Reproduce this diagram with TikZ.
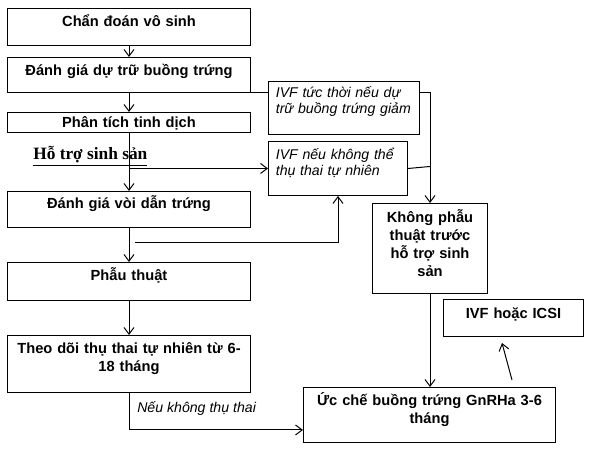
\documentclass[tikz,border=0pt]{standalone}
\usepackage{fontspec}
\setmainfont{Liberation Sans}
\newfontfamily\seriffont{Liberation Serif}
\usetikzlibrary{positioning}
\usetikzlibrary{arrows.meta}
\usetikzlibrary{calc}

\tikzset{
	buoc/.style={draw, line width=0.75pt, inner sep=0pt, anchor=north west, align=center,
		font=\fontsize{11}{13.5}\selectfont\bfseries},
	goiy/.style={draw, line width=0.75pt, inner xsep=5.5pt, inner ysep=0pt, anchor=north west, align=left,
		font=\fontsize{10.6}{12}\selectfont\itshape},
	noi/.style={line width=0.75pt},
	>={Straight Barb[length=5pt,width=7.5pt]}
}

\begin{document}
\begin{tikzpicture}[x=0.75pt,y=-0.75pt]
		\useasboundingbox (0,0) rectangle (590,452);

		% Left column
		\node[buoc, text width=182.25pt, text height=13.5pt, text depth=14.25pt] (chandoan) at (7,8) {Chẩn đoán vô sinh};
		\node[buoc, text width=182.25pt, text height=13.5pt, text depth=12.75pt] (dutru) at (7,57) {Đánh giá dự trữ buồng trứng};
		\node[buoc, text width=182.25pt, text height=11.6pt, text depth=3.4pt] (tinhdich) at (7,112) {Phân tích tinh dịch};
		\node[buoc, text width=182.25pt, text height=12.75pt, text depth=14.25pt] (voi) at (7,191) {Đánh giá vòi dẫn trứng};
		\node[buoc, text width=182.25pt, text height=13.5pt, text depth=15pt] (phauthuat) at (7,262) {Phẫu thuật};
		\node[buoc, text width=182.25pt, text height=13.5pt, text depth=29.25pt] (theodoi) at (7,335) {Theo dõi thụ thai tự nhiên từ 6-\\18 tháng};

		% Right column
		\node[goiy, text width=102.25pt, text height=12pt, text depth=27.75pt] (ivfngay) at (268,81) {\mbox{IVF tức thời nếu dự}\\\mbox{trữ buồng trứng giảm}};
		\node[goiy, text width=93.25pt, text height=13.5pt, text depth=27pt] (ivfthai) at (268,141) {\mbox{IVF nếu không thể}\\\mbox{thụ thai tự nhiên}};
		\node[buoc, text width=86.25pt, text height=14.25pt, text depth=53.25pt] (khongpt) at (372,203) {Không phẫu\\thuật trước\\hỗ trợ sinh\\sản};
		\node[buoc, text width=105pt, text height=14.25pt, text depth=13.5pt] (icsi) at (443,299) {IVF hoặc ICSI};
		\node[buoc, text width=189pt, text height=13.5pt, text depth=27.75pt] (ucche) at (303,387) {Ức chế buồng trứng GnRHa 3-6\\tháng};

		% Labels
		\node[anchor=base west, inner sep=0pt, font=\fontsize{13}{15}\selectfont\seriffont\bfseries] (hotro) at (33,160) {\underline{Hỗ trợ sinh sản}};
		\node[anchor=base west, inner sep=0pt, font=\fontsize{10.6}{12}\selectfont\itshape] (neukhong) at (137,413) {Nếu không thụ thai};

		% Free ends
		\coordinate (r) at (135,243);
		\coordinate (p) at (512,380);
		\coordinate (q) at (502,343);

		% Draw the lines
		\draw[noi,->] (chandoan.south) -- (dutru.north);
		\draw[noi,->] (dutru.south) -- (tinhdich.north);
		\draw[noi] (dutru.south) -- (dutru.south -| ivfngay.west);
		\draw[noi,->] (dutru.south -| ivfngay.east) -| (khongpt.north);
		\draw[noi,->] (tinhdich.south) -- (voi.north);
		\draw[noi,->] (tinhdich.south |- ivfthai.west) -- (ivfthai.west);
		\draw[noi] (ivfthai.east) -- ($(ivfthai.east -| khongpt.north)+(0,-2)$);
		\draw[noi,->] (voi.south) -- (phauthuat.north);
		\draw[noi,->] (r) -| (ivfthai.south);
		\draw[noi,->] (phauthuat.south) -- (theodoi.north);
		\draw[noi,->] (theodoi.south) |- ($(ucche.south west)+(0,-13)$);
		\draw[noi,->] (khongpt.south) -- (khongpt.south |- ucche.north);
		\draw[noi,->] (p) -- (q);
	\end{tikzpicture}
\end{document}
